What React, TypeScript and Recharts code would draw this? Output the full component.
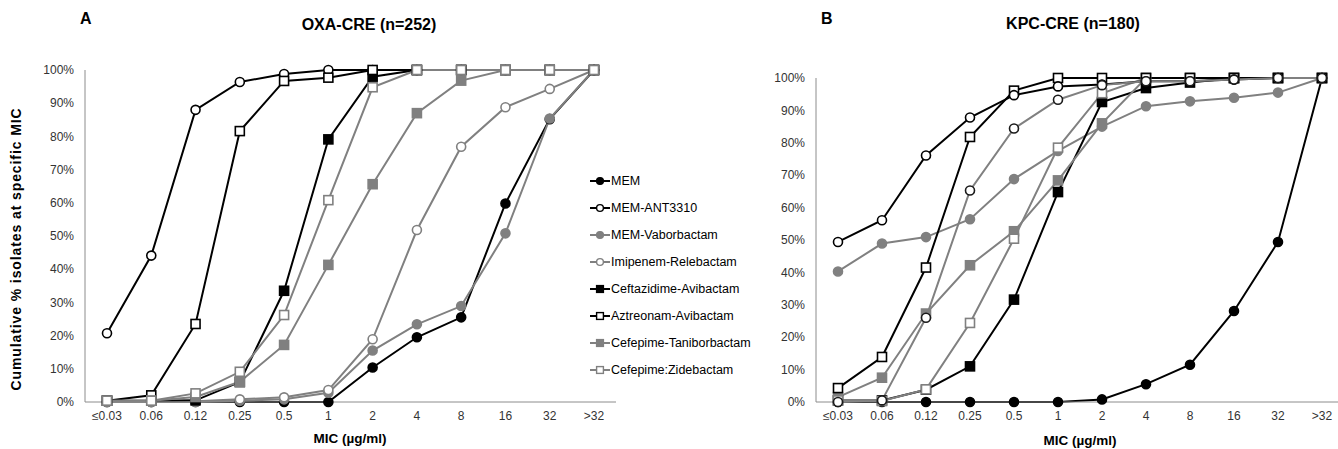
import React from "react";
import { LineChart, Line, XAxis, YAxis } from "recharts";

const categories = ["≤0.03", "0.06", "0.12", "0.25", "0.5", "1", "2", "4", "8", "16", "32", ">32"];
const yTicks = [0, 10, 20, 30, 40, 50, 60, 70, 80, 90, 100];

const seriesNames = [
  "MEM",
  "MEM-ANT3310",
  "MEM-Vaborbactam",
  "Imipenem-Relebactam",
  "Ceftazidime-Avibactam",
  "Aztreonam-Avibactam",
  "Cefepime-Taniborbactam",
  "Cefepime:Zidebactam"
];

// OXA-CRE (n=252), cumulative %
const oxaMem = [0, 0, 0, 0, 0, 0, 10.4, 19.5, 25.5, 59.8, 85.2, 100];
const oxaMemAnt = [20.7, 44.1, 88, 96.4, 98.8, 100, 100, 100, 100, 100, 100, 100];
const oxaMemVab = [0, 0, 0, 0.4, 0.8, 2.8, 15.5, 23.4, 28.9, 50.8, 85.4, 100];
const oxaImiRel = [0, 0, 0.2, 0.8, 1.4, 3.6, 18.9, 51.8, 76.9, 88.8, 94.3, 100];
const oxaCzaAvi = [0.4, 0.4, 0.5, 6, 33.5, 79.1, 98, 100, 100, 100, 100, 100];
const oxaAztAvi = [0.4, 2, 23.5, 81.6, 96.7, 97.7, 100, 100, 100, 100, 100, 100];
const oxaFepTan = [0.4, 0.4, 1.5, 6.1, 17.2, 41.3, 65.6, 87, 96.8, 100, 100, 100];
const oxaFepZid = [0.4, 0.4, 2.6, 9.1, 26.2, 60.8, 94.8, 100, 100, 100, 100, 100];

// KPC-CRE (n=180), cumulative %
const kpcMem = [0, 0, 0, 0, 0, 0, 0.8, 5.5, 11.5, 28.1, 49.4, 100];
const kpcMemAnt = [49.4, 56.1, 76.1, 87.8, 94.7, 97.4, 98, 99, 99, 99.5, 100, 100];
const kpcMemVab = [40.3, 48.9, 50.9, 56.4, 68.8, 77.5, 85, 91.3, 92.8, 93.9, 95.5, 100];
const kpcImiRel = [0, 0.5, 26, 65.3, 84.4, 93.3, 97.8, 99, 99, 99.5, 100, 100];
const kpcCzaAvi = [0.5, 0.5, 3.8, 11, 31.6, 64.8, 92.6, 96.9, 98.6, 100, 100, 100];
const kpcAztAvi = [4.3, 13.9, 41.5, 81.8, 96.1, 100, 100, 100, 100, 100, 100, 100];
const kpcFepTan = [1.5, 7.5, 27.3, 42.2, 52.7, 68.4, 86, 100, 100, 100, 100, 100];
const kpcFepZid = [0.5, 0.3, 3.9, 24.4, 50.4, 78.5, 95.3, 100, 100, 100, 100, 100];

const oxaSeries = [oxaMem, oxaMemAnt, oxaMemVab, oxaImiRel, oxaCzaAvi, oxaAztAvi, oxaFepTan, oxaFepZid];
const kpcSeries = [kpcMem, kpcMemAnt, kpcMemVab, kpcImiRel, kpcCzaAvi, kpcAztAvi, kpcFepTan, kpcFepZid];

const BLACK = "#000000";
const GRAY = "#808080";
const FONT = '"Liberation Sans", Arial, Helvetica, sans-serif';

const styles = [
  { color: BLACK, shape: "circle", filled: true },
  { color: BLACK, shape: "circle", filled: false },
  { color: GRAY, shape: "circle", filled: true },
  { color: GRAY, shape: "circle", filled: false },
  { color: BLACK, shape: "square", filled: true },
  { color: BLACK, shape: "square", filled: false },
  { color: GRAY, shape: "square", filled: true },
  { color: GRAY, shape: "square", filled: false }
];

const buildRows = (series: number[][]) =>
  categories.map((cat, i) => {
    const row: any = { cat };
    series.forEach((vals, s) => {
      row["s" + s] = vals[i];
    });
    return row;
  });

const makeDot = (shape: string, filled: boolean, color: string, stroke: string, size: number) => (props: any) => {
  const { cx, cy, index } = props;
  if (cx == null || cy == null) return <g key={index} />;
  const fill = filled ? color : "#ffffff";
  if (shape === "circle") {
    return <circle key={index} cx={cx} cy={cy} r={size} fill={fill} stroke={stroke} strokeWidth={1.6} />;
  }
  return (
    <rect
      key={index}
      x={cx - size}
      y={cy - size}
      width={size * 2}
      height={size * 2}
      fill={fill}
      stroke={stroke}
      strokeWidth={1.6}
    />
  );
};

interface PanelProps {
  series: number[][];
  order: number[];
  left: number;
  width: number;
  yAxisWidth: number;
  marginTop: number;
  darkImi?: boolean;
}

const Panel = ({ series, order, left, width, yAxisWidth, marginTop, darkImi }: PanelProps) => {
  const rows = buildRows(series);
  return (
    <div style={{ position: "absolute", left, top: 0 }}>
      <LineChart width={width} height={449} data={rows} margin={{ top: marginTop, right: 2, bottom: 17, left: 0 }}>
        <XAxis
          dataKey="cat"
          interval={0}
          tickLine={false}
          tickMargin={3}
          height={30}
          padding={{ left: 22, right: 22 }}
          axisLine={{ stroke: "#8c8c8c" }}
          tick={{ fontSize: 12, fill: "#333333", fontFamily: FONT }}
        />
        <YAxis
          width={yAxisWidth}
          domain={[0, 100]}
          ticks={yTicks}
          interval={0}
          tickLine={false}
          tickMargin={5}
          tickFormatter={(v: number) => `${v}%`}
          axisLine={{ stroke: "#8c8c8c" }}
          tick={{ fontSize: 12, fill: "#333333", fontFamily: FONT }}
        />
        {order.map((s) => {
          const st = styles[s];
          const markerStroke = darkImi && s === 3 ? "#1a1a1a" : st.color;
          return (
            <Line
              key={s}
              type="linear"
              dataKey={"s" + s}
              name={seriesNames[s]}
              stroke={st.color}
              strokeWidth={2}
              dot={makeDot(st.shape, st.filled, st.color, markerStroke, 4.5)}
              activeDot={false}
              isAnimationActive={false}
            />
          );
        })}
      </LineChart>
    </div>
  );
};

const LegendIcon = ({ s }: { s: number }) => {
  const st = styles[s];
  const fill = st.filled ? st.color : "#ffffff";
  return (
    <svg width={20} height={10} style={{ display: "block" }}>
      <line x1={0} y1={5} x2={20} y2={5} stroke={st.color} strokeWidth={2} />
      {st.shape === "circle" ? (
        <circle cx={10} cy={5} r={3.4} fill={fill} stroke={st.color} strokeWidth={1.4} />
      ) : (
        <rect x={6.6} y={1.6} width={6.8} height={6.8} fill={fill} stroke={st.color} strokeWidth={1.4} />
      )}
    </svg>
  );
};

const textBase: React.CSSProperties = { position: "absolute", fontFamily: FONT, color: "#000", whiteSpace: "nowrap" };

export default function App() {
  return (
    <div
      style={{
        position: "absolute",
        left: 0,
        top: 0,
        width: 1338,
        height: 449,
        overflow: "hidden",
        background: "#ffffff",
        fontFamily: FONT
      }}
    >
      <Panel series={oxaSeries} order={[0, 1, 2, 3, 4, 5, 6, 7]} left={0} width={618} yAxisWidth={85} marginTop={70} />
      <Panel
        series={kpcSeries}
        order={[0, 2, 4, 6, 7, 5, 1, 3]}
        left={700}
        width={646}
        yAxisWidth={116}
        marginTop={78}
        darkImi
      />

      <div style={{ ...textBase, left: 80, top: 10, fontSize: 16, fontWeight: 700 }}>A</div>
      <div style={{ ...textBase, left: 821, top: 10, fontSize: 16, fontWeight: 700 }}>B</div>
      <div style={{ ...textBase, left: 369, top: 25, transform: "translate(-50%, -50%)", fontSize: 16, fontWeight: 700 }}>
        OXA-CRE (n=252)
      </div>
      <div style={{ ...textBase, left: 1073, top: 24, transform: "translate(-50%, -50%)", fontSize: 16, fontWeight: 700 }}>
        KPC-CRE (n=180)
      </div>
      <div
        style={{
          ...textBase,
          left: 16,
          top: 249,
          transform: "translate(-50%, -50%) rotate(-90deg)",
          fontSize: 14,
          fontWeight: 700,
          letterSpacing: 0.9
        }}
      >
        Cumulative % isolates at specific MIC
      </div>
      <div style={{ ...textBase, left: 350, top: 438, transform: "translate(-50%, -50%)", fontSize: 13.5, fontWeight: 700 }}>
        MIC (µg/ml)
      </div>
      <div style={{ ...textBase, left: 1080, top: 440, transform: "translate(-50%, -50%)", fontSize: 13.5, fontWeight: 700 }}>
        MIC (µg/ml)
      </div>

      <div style={{ position: "absolute", left: 590, top: 167 }}>
        {seriesNames.map((name, s) => (
          <div key={name} style={{ display: "flex", alignItems: "center", height: 27 }}>
            <LegendIcon s={s} />
            <span style={{ fontSize: 12.5, color: "#000", marginLeft: 1, fontFamily: FONT }}>{name}</span>
          </div>
        ))}
      </div>
    </div>
  );
}
